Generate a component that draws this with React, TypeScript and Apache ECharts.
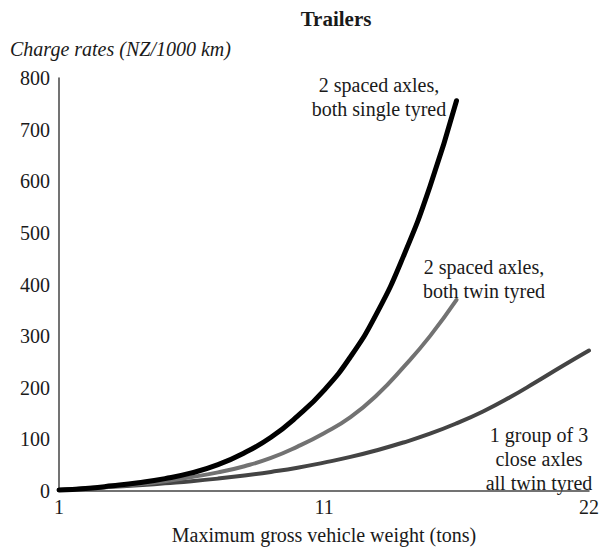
import React, { useEffect, useRef } from "react";
import * as echarts from "echarts";

// Maximum gross vehicle weight (tons) categories
const weights: string[] = [
  "1", "2", "3", "4", "5", "6", "7", "8", "9", "10", "11",
  "12.1", "13.2", "14.3", "15.4", "16.5", "17.6", "18.7", "19.8", "20.9", "22",
];
const shownLabels: string[] = ["1", "11", "22"];

// Charge rates (NZ/1000 km)
const singleTyred: number[] = [2, 5, 10, 16, 24, 35, 51, 74, 104, 145, 195, 260, 345, 455, 590, 756];
const twinTyred: number[] = [2, 5, 9, 13, 19, 27, 36, 48, 64, 86, 112, 143, 186, 240, 300, 370];
const groupOf3: number[] = [2, 5, 8, 11, 15, 19, 24, 30, 37, 45, 55, 66, 79, 94, 111, 131, 154, 181, 211, 242, 272];

const yTicks = { min: 0, max: 800, interval: 100 };

const FONT = "'Liberation Serif', 'Times New Roman', serif";
const TXT = "#1a1a1a";

export default function App() {
  const ref = useRef<HTMLDivElement>(null);
  useEffect(() => {
    if (!ref.current) return;
    const chart = echarts.init(ref.current, undefined, { renderer: "svg" });
    const lbl = (text: string, x: number, y: number) => ({
      type: "text",
      x,
      y,
      style: {
        text,
        fill: TXT,
        font: `20px ${FONT}`,
        textAlign: "center",
        textVerticalAlign: "middle",
        lineHeight: 24,
      },
    });
    const line = (name: string, data: number[], color: string, width: number) => ({
      name,
      type: "line",
      data,
      smooth: 0.5,
      showSymbol: false,
      lineStyle: { color, width, cap: "round", join: "round" },
    });
    chart.setOption({
      animation: false,
      backgroundColor: "#ffffff",
      title: {
        text: "Trailers",
        left: 331,
        top: 3,
        textAlign: "center",
        textStyle: { fontFamily: FONT, fontWeight: "bold", fontSize: 21, color: TXT },
      },
      grid: { left: 59, right: 11, top: 78, bottom: 52, containLabel: false },
      xAxis: {
        type: "category",
        data: weights,
        boundaryGap: false,
        name: "Maximum gross vehicle weight (tons)",
        nameLocation: "middle",
        nameGap: 34,
        nameTextStyle: { fontFamily: FONT, fontSize: 20, color: TXT },
        axisLine: { show: true, lineStyle: { color: "#444", width: 1.5 } },
        axisTick: { show: false },
        axisLabel: {
          interval: (_i: number, v: string) => shownLabels.includes(v),
          showMaxLabel: true,
          fontFamily: FONT,
          fontSize: 20,
          color: TXT,
          margin: 6,
        },
        splitLine: { show: false },
      },
      yAxis: {
        type: "value",
        min: yTicks.min,
        max: yTicks.max,
        interval: yTicks.interval,
        axisLine: { show: true, lineStyle: { color: "#444", width: 1.5 } },
        axisTick: { show: false },
        axisLabel: { fontFamily: FONT, fontSize: 20, color: TXT, margin: 9 },
        splitLine: { show: false },
      },
      graphic: [
        {
          type: "text",
          left: 10,
          top: 39,
          style: {
            text: "Charge rates (NZ/1000 km)",
            fill: TXT,
            font: `italic 20px ${FONT}`,
          },
        },
        lbl("2 spaced axles,\nboth single tyred", 379, 97),
        lbl("2 spaced axles,\nboth twin tyred", 484, 279),
        lbl("1 group of 3\nclose axles\nall twin tyred", 539, 459),
      ],
      series: [
        line("1 group of 3 close axles all twin tyred", groupOf3, "#444444", 4),
        line("2 spaced axles, both twin tyred", twinTyred, "#727272", 4),
        line("2 spaced axles, both single tyred", singleTyred, "#000000", 5),
      ],
    });
    return () => chart.dispose();
  }, []);
  return <div ref={ref} style={{ width: 602, height: 550, position: "absolute", left: 0, top: 0 }} />;
}
